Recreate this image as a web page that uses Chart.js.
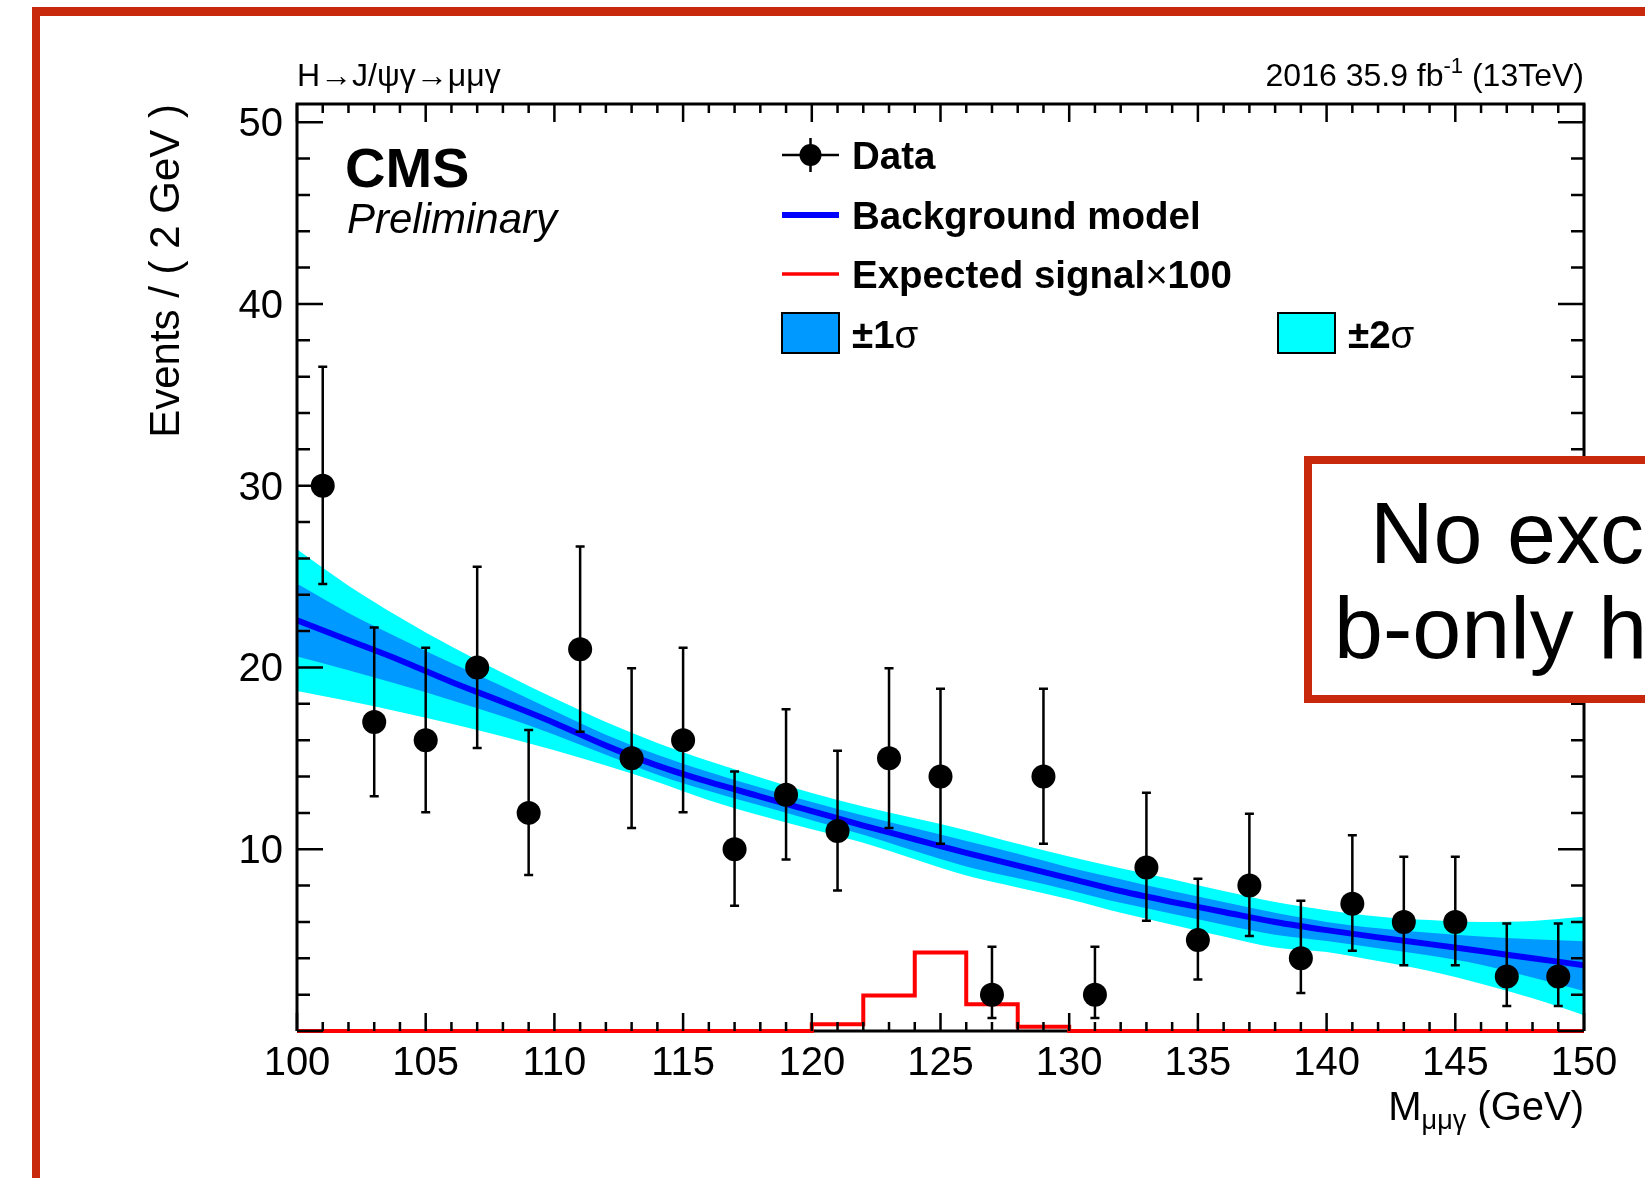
<!DOCTYPE html>
<html>
<head>
<meta charset="utf-8">
<script src="https://cdn.jsdelivr.net/npm/chart.js@4.4.1/dist/chart.umd.min.js"></script>
<style>
  html, body { margin: 0; padding: 0; background: #fff; }
  #wrap { width: 1645px; height: 1178px; position: relative; }
</style>
</head>
<body>
<div id="wrap"><canvas id="cms" width="1645" height="1178"></canvas></div>
<script>
// ---- data ----
const binCenters = [101, 103, 105, 107, 109, 111, 113, 115, 117, 119, 121, 123, 125,
                    127, 129, 131, 133, 135, 137, 139, 141, 143, 145, 147, 149];
const dataCounts = [30, 17, 16, 20, 12, 21, 15, 16, 10, 13, 11, 15, 14,
                    2, 14, 2, 9, 5, 8, 4, 7, 6, 6, 3, 3];
// error bar ends (poisson intervals as drawn)
const errLow  = [24.59, 12.92, 12.04, 15.57, 8.58, 16.47, 11.17, 12.04, 6.89, 9.44, 7.73, 11.17, 10.30,
                 0.71, 10.30, 0.71, 6.06, 2.84, 5.23, 2.09, 4.42, 3.62, 3.62, 1.37, 1.37];
const errHigh = [36.55, 22.20, 21.08, 25.54, 16.56, 26.65, 19.96, 21.08, 14.27, 17.70, 15.42, 19.96, 18.83,
                 4.64, 18.83, 4.64, 13.11, 8.38, 11.95, 7.16, 10.77, 9.58, 9.58, 5.92, 5.92];

// expected signal x100, one value per 2 GeV bin (100-102 ... 148-150)
const binEdgesLow = [100, 102, 104, 106, 108, 110, 112, 114, 116, 118, 120, 122, 124,
                     126, 128, 130, 132, 134, 136, 138, 140, 142, 144, 146, 148];
const signalX100 = [0, 0, 0, 0, 0, 0, 0, 0, 0, 0, 0.37, 1.95, 4.32,
                    1.47, 0.23, 0, 0, 0, 0, 0, 0, 0, 0, 0, 0];

// background model and its uncertainty bands
const bandX     = [100, 102, 104, 106, 108, 110, 112, 114, 116, 118, 120, 122, 124,
                   126, 128, 130, 132, 134, 136, 138, 140, 142, 144, 146, 148, 150];
const bkgModel  = [22.6, 21.5, 20.4, 19.2, 18.1, 16.95, 15.7, 14.6, 13.7, 12.9, 12.1, 11.3, 10.55,
                   9.8, 9.1, 8.4, 7.7, 7.1, 6.55, 6.0, 5.55, 5.15, 4.78, 4.4, 4.0, 3.62];
const band1Up   = [24.6, 23.0, 21.6, 20.25, 18.95, 17.6, 16.3, 15.2, 14.25, 13.4, 12.6, 11.85, 11.15,
                   10.45, 9.75, 9.0, 8.35, 7.7, 7.1, 6.5, 6.0, 5.65, 5.4, 5.2, 5.05, 4.94];
const band1Down = [20.6, 19.85, 19.05, 18.2, 17.3, 16.3, 15.2, 14.1, 13.2, 12.4, 11.6, 10.8, 9.9,
                   9.05, 8.4, 7.75, 7.05, 6.45, 5.85, 5.3, 4.95, 4.55, 4.15, 3.65, 2.95, 2.2];
const band2Up   = [26.5, 24.5, 22.75, 21.15, 19.7, 18.3, 17.0, 15.85, 14.85, 13.95, 13.1, 12.35, 11.7,
                   11.05, 10.3, 9.6, 8.95, 8.35, 7.7, 7.1, 6.65, 6.3, 6.1, 6.0, 6.05, 6.28];
const band2Down = [18.7, 18.15, 17.55, 16.9, 16.2, 15.45, 14.6, 13.7, 12.7, 11.85, 11.1, 10.35, 9.45,
                   8.55, 7.9, 7.25, 6.5, 5.85, 5.2, 4.6, 4.35, 3.85, 3.3, 2.6, 1.8, 0.87];

const xTicks = [100, 105, 110, 115, 120, 125, 130, 135, 140, 145, 150];
const yTicks = [10, 20, 30, 40, 50];

const FONT = '"Liberation Sans", Arial, Helvetica, sans-serif';
const SLIDE_RED = '#c8280c';

const pts = (xs, ys) => xs.map((x, i) => ({ x: x, y: ys[i] }));

// stepped histogram: left edge of each bin + closing point at 150
const signalSteps = pts(binEdgesLow, signalX100).concat([{ x: 150, y: signalX100[signalX100.length - 1] }]);

// error bars under the data markers
const errorBars = {
  id: 'errorBars',
  beforeDatasetDraw(chart, args) {
    if (chart.data.datasets[args.index].label !== 'Data') return;
    const ctx = chart.ctx, xs = chart.scales.x, ys = chart.scales.y;
    ctx.save();
    ctx.strokeStyle = '#000';
    ctx.lineWidth = 2.5;
    binCenters.forEach((c, i) => {
      const px = xs.getPixelForValue(c);
      const y1 = ys.getPixelForValue(errLow[i]);
      const y2 = ys.getPixelForValue(errHigh[i]);
      ctx.beginPath();
      ctx.moveTo(px, y1); ctx.lineTo(px, y2);
      ctx.moveTo(px - 4.5, y1); ctx.lineTo(px + 4.5, y1);
      ctx.moveTo(px - 4.5, y2); ctx.lineTo(px + 4.5, y2);
      ctx.stroke();
    });
    ctx.restore();
  }
};

// ROOT-style frame with ticks on all four sides
const rootFrame = {
  id: 'rootFrame',
  beforeDatasetsDraw(chart) {
    const ctx = chart.ctx, a = chart.chartArea;
    ctx.save();
    ctx.strokeStyle = '#000';
    ctx.lineWidth = 3;
    ctx.beginPath();
    ctx.moveTo(a.left, a.bottom); ctx.lineTo(a.right, a.bottom);
    ctx.stroke();
    ctx.restore();
  },
  afterDatasetsDraw(chart) {
    const ctx = chart.ctx, a = chart.chartArea, xs = chart.scales.x, ys = chart.scales.y;
    ctx.save();
    ctx.strokeStyle = '#000';
    ctx.lineWidth = 3;
    ctx.beginPath();
    ctx.moveTo(a.left, a.bottom); ctx.lineTo(a.left, a.top);
    ctx.lineTo(a.right, a.top); ctx.lineTo(a.right, a.bottom);
    ctx.stroke();

    ctx.lineWidth = 2.5;
    ctx.beginPath();
    for (let v = 100; v <= 150; v += 1) {
      const px = xs.getPixelForValue(v);
      const len = v % 5 === 0 ? 18 : 9;
      ctx.moveTo(px, a.bottom); ctx.lineTo(px, a.bottom - len);
      ctx.moveTo(px, a.top); ctx.lineTo(px, a.top + len);
    }
    for (let v = 0; v <= 50; v += 2) {
      const py = ys.getPixelForValue(v);
      const len = v % 10 === 0 ? 26 : 13;
      ctx.moveTo(a.left, py); ctx.lineTo(a.left + len, py);
      ctx.moveTo(a.right, py); ctx.lineTo(a.right - len, py);
    }
    ctx.stroke();
    ctx.restore();
  },
  afterDraw(chart) {
    const ctx = chart.ctx, a = chart.chartArea, xs = chart.scales.x, ys = chart.scales.y;
    ctx.save();
    ctx.fillStyle = '#000';
    ctx.textBaseline = 'alphabetic';

    // tick labels
    ctx.font = '40px ' + FONT;
    ctx.textAlign = 'center';
    xTicks.forEach(v => ctx.fillText(String(v), xs.getPixelForValue(v), a.bottom + 44));
    ctx.textAlign = 'right';
    yTicks.forEach(v => ctx.fillText(String(v), a.left - 14, ys.getPixelForValue(v) + 14));

    // y title
    ctx.save();
    ctx.translate(179, a.top);
    ctx.rotate(-Math.PI / 2);
    ctx.font = '42px ' + FONT;
    ctx.textAlign = 'right';
    ctx.fillText('Events / ( 2 GeV )', 0, 0);
    ctx.restore();

    // x title  M_{μμγ} (GeV)
    ctx.textAlign = 'left';
    const big = '40px ' + FONT, small = '27px ' + FONT;
    ctx.font = big; const wM = ctx.measureText('M').width, wG = ctx.measureText(' (GeV)').width;
    ctx.font = small; const wS = ctx.measureText('μμγ').width;
    let x0 = a.right - (wM + wS + wG);
    ctx.font = big; ctx.fillText('M', x0, 1120);
    ctx.font = small; ctx.fillText('μμγ', x0 + wM, 1129);
    ctx.font = big; ctx.fillText(' (GeV)', x0 + wM + wS, 1120);

    // labels above the frame
    ctx.font = '32px ' + FONT;
    ctx.fillText('H→J/ψγ→μμγ', a.left, 86);
    const t1 = '2016 35.9 fb', t2 = '-1', t3 = ' (13TeV)';
    ctx.font = '32px ' + FONT;
    const w1 = ctx.measureText(t1).width, w3 = ctx.measureText(t3).width;
    ctx.font = '22px ' + FONT;
    const w2 = ctx.measureText(t2).width;
    x0 = a.right - (w1 + w2 + w3);
    ctx.font = '32px ' + FONT; ctx.fillText(t1, x0, 86);
    ctx.font = '22px ' + FONT; ctx.fillText(t2, x0 + w1, 73);
    ctx.font = '32px ' + FONT; ctx.fillText(t3, x0 + w1 + w2, 86);

    // CMS Preliminary
    ctx.font = 'bold 56px ' + FONT;
    ctx.fillText('CMS', 345, 187);
    ctx.font = 'italic 42px ' + FONT;
    ctx.fillText('Preliminary', 347, 233);

    // legend
    const lx0 = 782, lx1 = 839, tx = 852;
    const rows = [155, 215, 274, 334];
    ctx.strokeStyle = '#000';
    ctx.lineWidth = 2.5;
    ctx.beginPath();
    ctx.moveTo(lx0, rows[0]); ctx.lineTo(lx1, rows[0]);
    ctx.moveTo((lx0 + lx1) / 2, rows[0] - 17); ctx.lineTo((lx0 + lx1) / 2, rows[0] + 17);
    ctx.stroke();
    ctx.beginPath();
    ctx.arc((lx0 + lx1) / 2, rows[0], 11, 0, Math.PI * 2);
    ctx.fill();

    ctx.strokeStyle = '#0000ff'; ctx.lineWidth = 6;
    ctx.beginPath(); ctx.moveTo(lx0, rows[1]); ctx.lineTo(lx1, rows[1]); ctx.stroke();
    ctx.strokeStyle = '#ff0000'; ctx.lineWidth = 3.5;
    ctx.beginPath(); ctx.moveTo(lx0, rows[2]); ctx.lineTo(lx1, rows[2]); ctx.stroke();

    ctx.lineWidth = 2;
    ctx.strokeStyle = '#000';
    ctx.fillStyle = '#0099ff'; ctx.fillRect(lx0, 313, lx1 - lx0, 40); ctx.strokeRect(lx0, 313, lx1 - lx0, 40);
    ctx.fillStyle = '#00ffff'; ctx.fillRect(1278, 313, 57, 40); ctx.strokeRect(1278, 313, 57, 40);

    ctx.fillStyle = '#000';
    const bold = 'bold 38.5px ' + FONT, reg = '38.5px ' + FONT;
    ctx.font = bold;
    ctx.fillText('Data', tx, rows[0] + 14);
    ctx.fillText('Background model', tx, rows[1] + 14);
    ctx.fillText('Expected signal', tx, rows[2] + 14);
    let w = ctx.measureText('Expected signal').width;
    ctx.font = reg; ctx.fillText('×', tx + w, rows[2] + 14);
    w += ctx.measureText('×').width;
    ctx.font = bold; ctx.fillText('100', tx + w, rows[2] + 14);
    [[tx, '±1'], [1348, '±2']].forEach(([px, s]) => {
      ctx.font = bold; ctx.fillText(s, px, rows[3] + 14);
      const ws = ctx.measureText(s).width;
      ctx.font = reg; ctx.fillText('σ', px + ws, rows[3] + 14);
    });

    // slide decoration: red frame and cut-off comment box
    ctx.fillStyle = SLIDE_RED;
    ctx.fillRect(32, 7, 1645 - 32, 9);
    ctx.fillRect(32, 7, 8, 1178 - 7);

    ctx.fillStyle = '#fff';
    ctx.fillRect(1304, 456, 400, 247);
    ctx.strokeStyle = SLIDE_RED;
    ctx.lineWidth = 8;
    ctx.strokeRect(1308, 460, 400, 239);
    ctx.fillStyle = '#000';
    ctx.font = '88px ' + FONT;
    ctx.fillText('No excess over', 1370, 563);
    ctx.fillText('b-only hypothesis', 1334, 658);
    ctx.restore();
  }
};

const noLine = 'rgba(0,0,0,0)';

new Chart(document.getElementById('cms'), {
  type: 'line',
  data: {
    datasets: [
      { label: '±2σ', data: pts(bandX, band2Up), fill: '+1', backgroundColor: '#00ffff',
        borderColor: noLine, borderWidth: 1, pointRadius: 0, order: 5, cubicInterpolationMode: 'monotone' },
      { label: '±2σ low', data: pts(bandX, band2Down), fill: false,
        borderColor: noLine, borderWidth: 1, pointRadius: 0, order: 5, cubicInterpolationMode: 'monotone' },
      { label: '±1σ', data: pts(bandX, band1Up), fill: '+1', backgroundColor: '#0099ff',
        borderColor: noLine, borderWidth: 1, pointRadius: 0, order: 4, cubicInterpolationMode: 'monotone' },
      { label: '±1σ low', data: pts(bandX, band1Down), fill: false,
        borderColor: noLine, borderWidth: 1, pointRadius: 0, order: 4, cubicInterpolationMode: 'monotone' },
      { label: 'Background model', data: pts(bandX, bkgModel), fill: false, borderColor: '#0000ff',
        borderWidth: 6, pointRadius: 0, order: 3, cubicInterpolationMode: 'monotone' },
      { label: 'Expected signal×100', data: signalSteps, stepped: true, fill: false, borderColor: '#ff0000',
        borderWidth: 4, pointRadius: 0, order: 2, clip: false },
      { label: 'Data', data: pts(binCenters, dataCounts), showLine: false, pointRadius: 12,
        pointBackgroundColor: '#000', pointBorderWidth: 0, pointBorderColor: '#000', order: 1 }
    ]
  },
  options: {
    responsive: false,
    animation: false,
    devicePixelRatio: 1,
    layout: { padding: { left: 297, right: 61, top: 104, bottom: 147 } },
    plugins: {
      legend: { display: false },
      tooltip: { enabled: false }
    },
    scales: {
      x: { type: 'linear', min: 100, max: 150, display: false },
      y: { type: 'linear', min: 0, max: 51, display: false }
    }
  },
  plugins: [errorBars, rootFrame]
});
</script>
</body>
</html>
